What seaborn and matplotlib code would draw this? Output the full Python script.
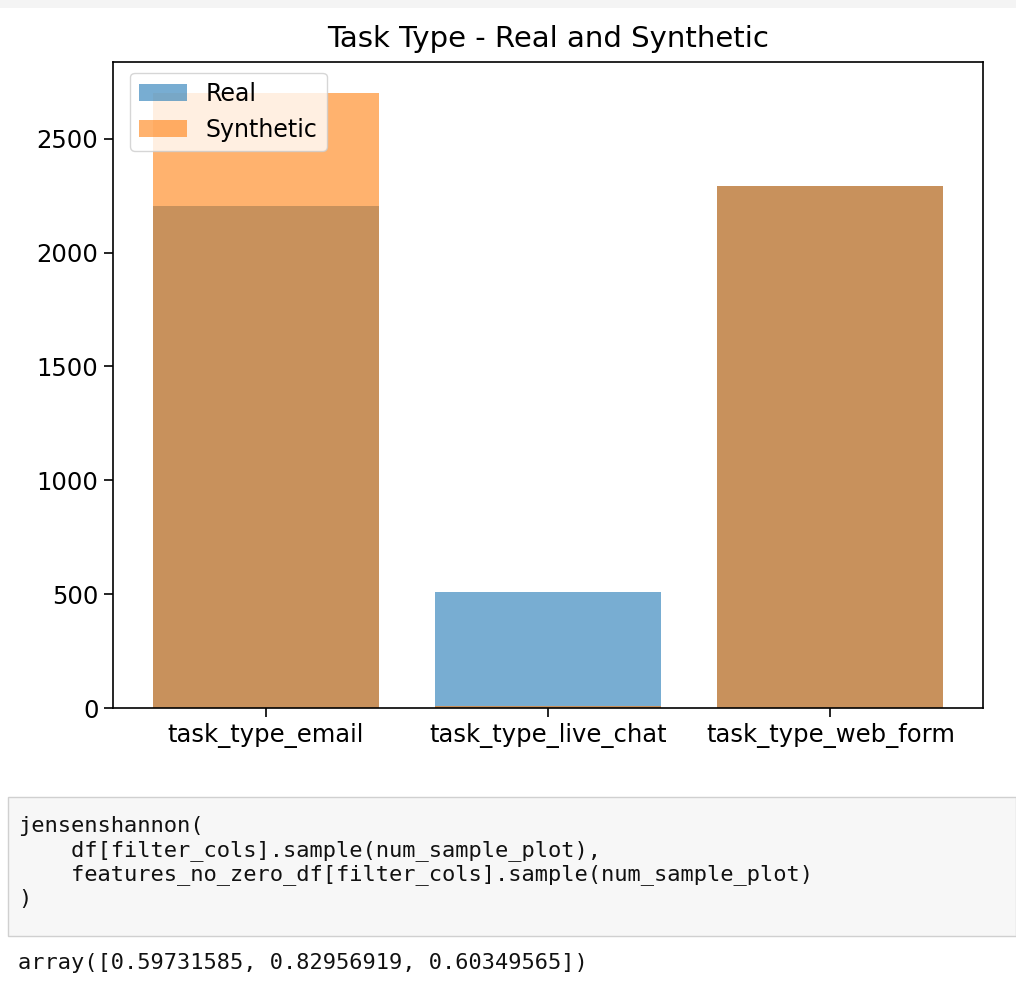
import matplotlib
matplotlib.use("Agg")
import matplotlib.pyplot as plt
import seaborn as sns
from matplotlib.patches import Rectangle

# data
categories = ["task_type_email", "task_type_live_chat", "task_type_web_form"]
real_counts = [2205, 508, 2294]
synthetic_counts = [2702, 8, 2294]

code_lines = [
    "jensenshannon(",
    "    df[filter_cols].sample(num_sample_plot),",
    "    features_no_zero_df[filter_cols].sample(num_sample_plot)",
    ")",
]
output_text = "array([0.59731585, 0.82956919, 0.60349565])"

W, H = 1016, 984
fig = plt.figure(figsize=(W / 100, H / 100), dpi=100)
fig.patch.set_facecolor("white")

# faint notebook strip at the very top
fig.patches.append(Rectangle((0, 1 - 8 / H), 1, 8 / H, transform=fig.transFigure,
                             facecolor="#f4f4f4", edgecolor="none"))

# axes in pixel coordinates of the reference
left, right, top, bottom = 113, 983, 62, 708
ax = fig.add_axes([left / W, 1 - bottom / H, (right - left) / W, (bottom - top) / H])

sns.barplot(x=categories, y=real_counts, color="tab:blue", alpha=0.6,
            saturation=1, width=0.8, linewidth=0, label="Real", ax=ax)
sns.barplot(x=categories, y=synthetic_counts, color="tab:orange", alpha=0.6,
            saturation=1, width=0.8, linewidth=0, label="Synthetic", ax=ax)

ax.set_xlim(-0.54, 2.54)
ax.set_ylim(0, max(synthetic_counts) * 1.05)
ax.set_yticks([0, 500, 1000, 1500, 2000, 2500])
ax.tick_params(labelsize=17.5, length=6.5, width=1.2, pad=4)
ax.set_title("Task Type - Real and Synthetic", fontsize=21, pad=11)
ax.legend(loc="upper left", fontsize=17, borderaxespad=0.5,
          bbox_to_anchor=(0.006, 1.002))
for s in ax.spines.values():
    s.set_linewidth(1.2)

# notebook code cell under the chart
box_y0, box_y1 = 797, 936
fig.patches.append(Rectangle((8 / W, 1 - box_y1 / H), (W - 8) / W, (box_y1 - box_y0) / H,
                             transform=fig.transFigure, facecolor="#f7f7f7",
                             edgecolor="#d0d0d0", linewidth=1))
for i, line in enumerate(code_lines):
    fig.text(18 / W, 1 - (826 + 24.3 * i) / H, line, family="DejaVu Sans Mono",
             fontsize=15.8, va="center", ha="left", color="#111111")
fig.text(18 / W, 1 - 963 / H, output_text, family="DejaVu Sans Mono",
         fontsize=15.8, va="center", ha="left", color="#111111")

fig.savefig("out.png", dpi=100)
